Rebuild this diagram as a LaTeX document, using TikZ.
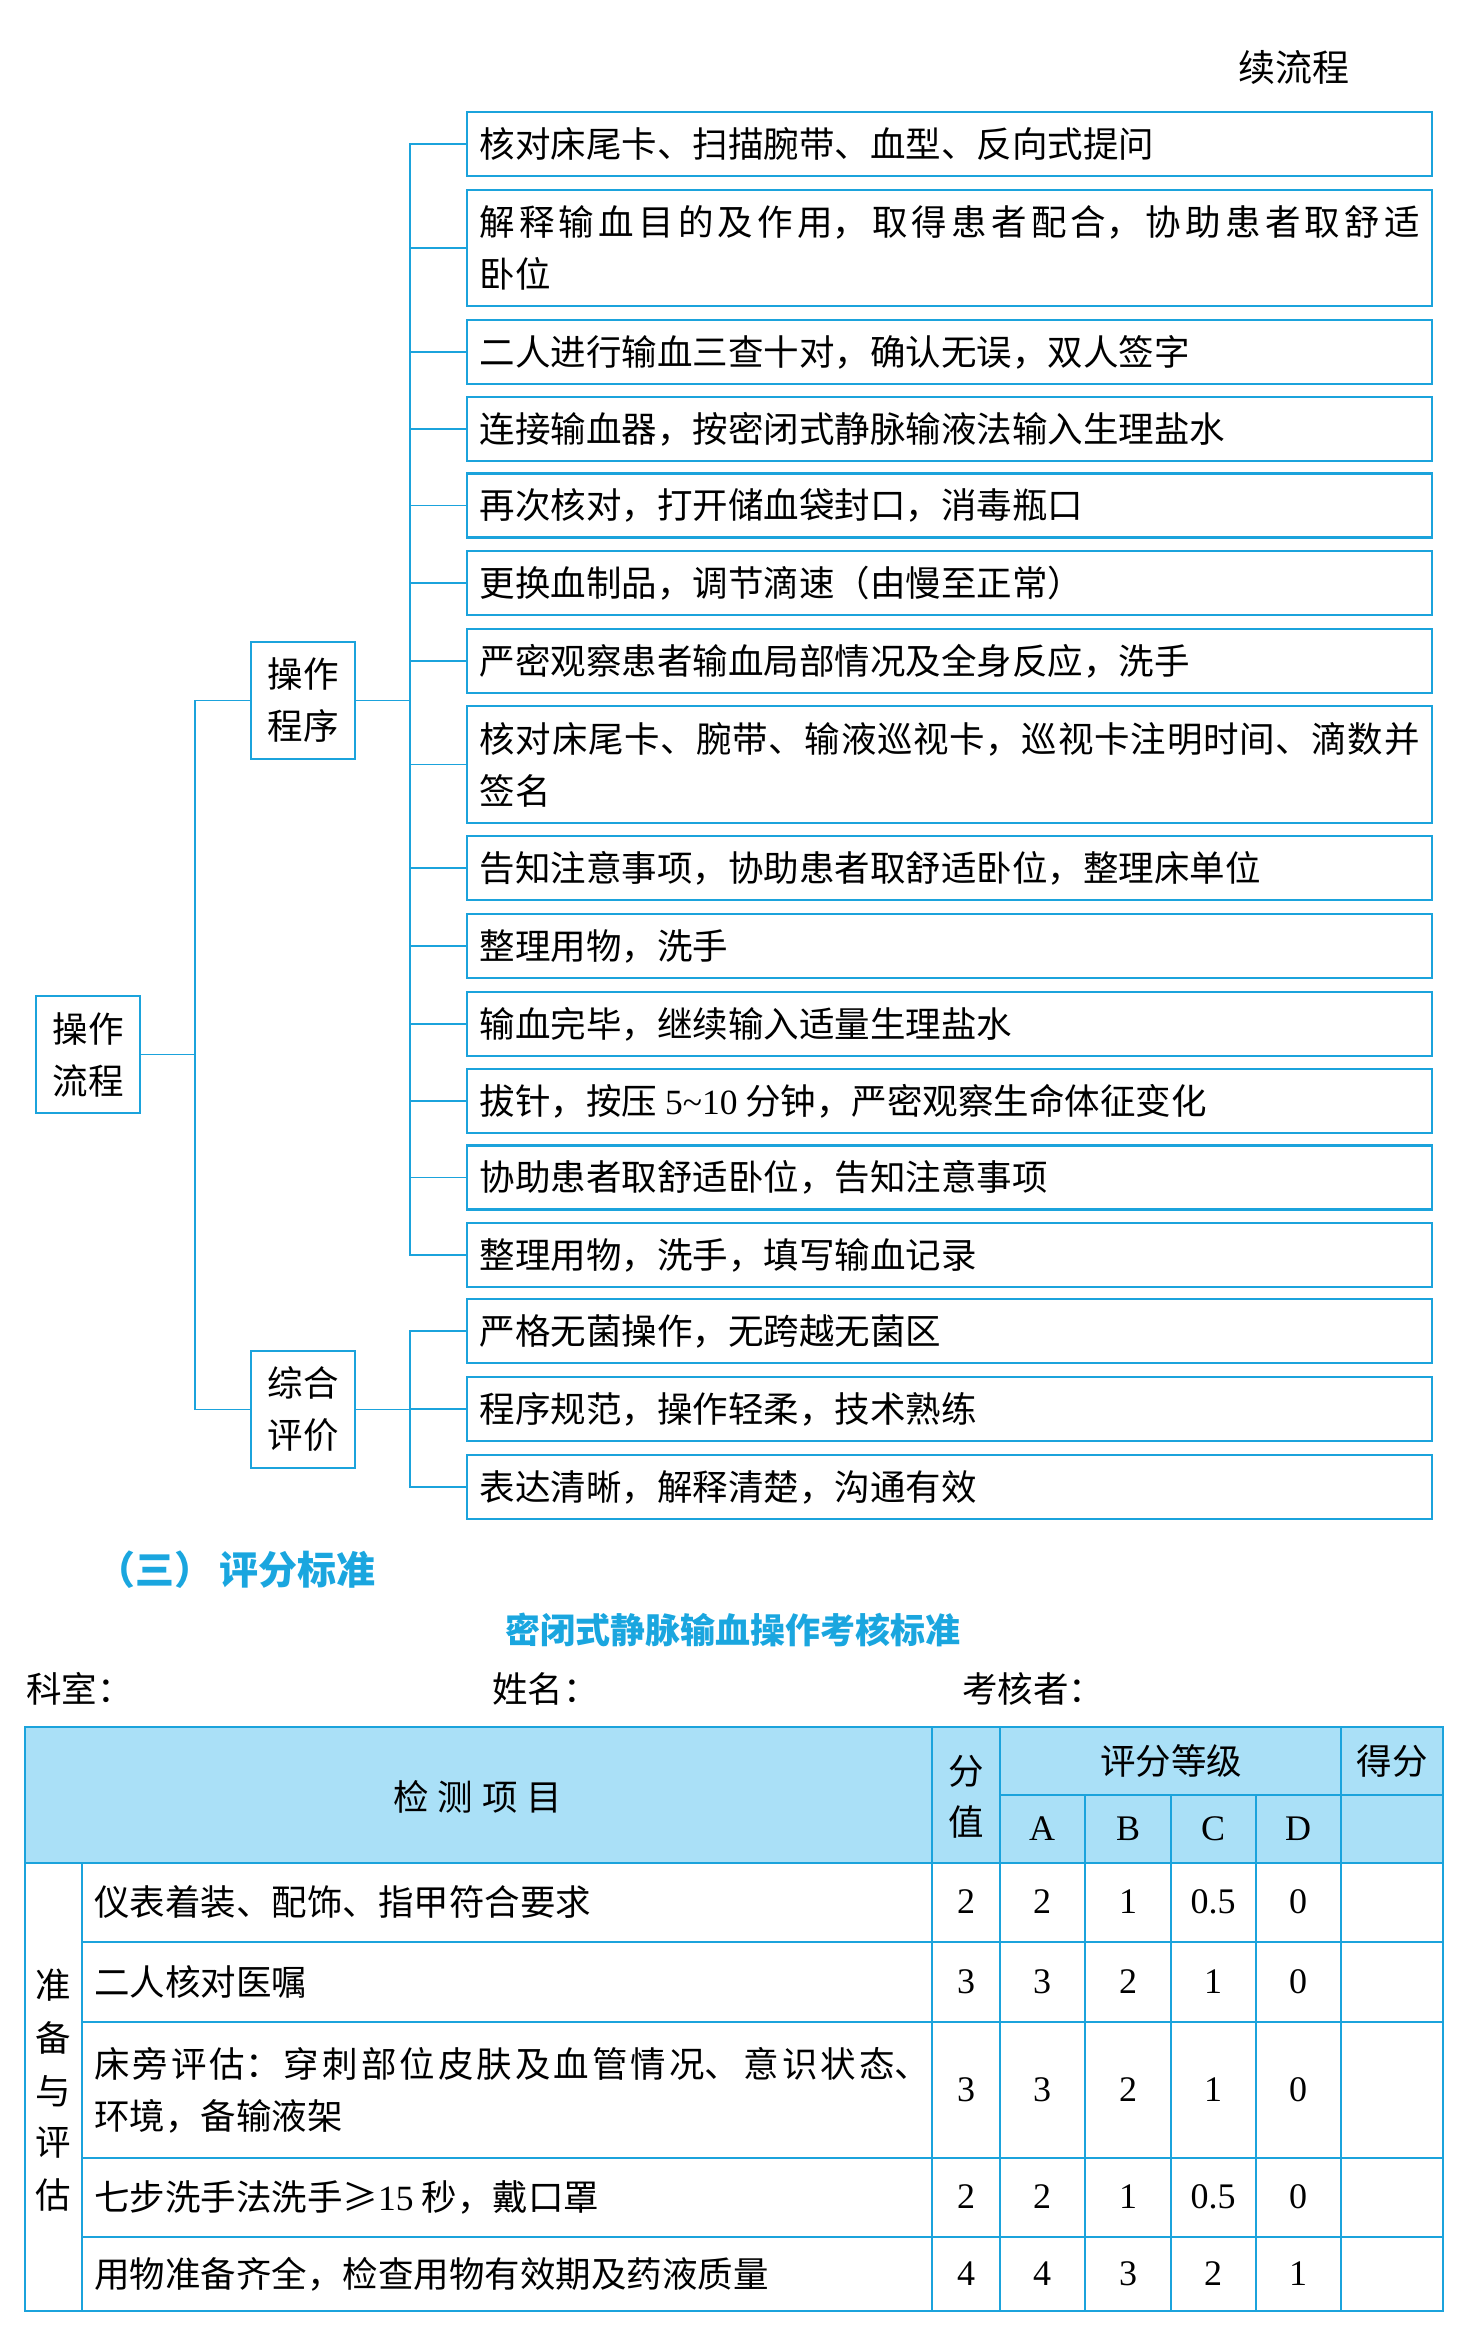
\documentclass[tikz,border=0pt]{standalone}
\usepackage{fontspec}
\setmainfont{Liberation Serif}
\newfontfamily\cjk{Noto Sans CJK SC}
\newfontfamily\lat{Liberation Serif}
\XeTeXlinebreaklocale "zh"
\XeTeXlinebreakskip=0pt plus 6pt
\definecolor{lc}{HTML}{1BA3DC}
\definecolor{hdr}{HTML}{AAE0F7}
\definecolor{tc}{HTML}{1AA6DF}
\tikzset{
  stepbox/.style={draw=lc, line width=2.2pt, text width=940pt, inner xsep=12.5pt, inner ysep=0pt,
    align=justify, anchor=west, font=\cjk\fontsize{35.5}{52}\selectfont},
  catbox/.style={draw=lc, line width=2.2pt, minimum width=104pt, minimum height=117pt,
    inner sep=0pt, align=center, font=\cjk\fontsize{35.5}{52}\selectfont},
  conn/.style={draw=lc, line width=1.5pt, line cap=rect},
  txt/.style={inner sep=0pt, font=\cjk\fontsize{35.5}{52}\selectfont},
  num/.style={inner sep=0pt, font=\lat\fontsize{36}{36}\selectfont},
  tthin/.style={draw=lc, line width=1.3pt},
  tthick/.style={draw=lc, line width=2.6pt},
}
\begin{document}
\begin{tikzpicture}[x=1pt,y=-1pt]
\useasboundingbox (0,0) rectangle (1477,2341);
\node[txt, anchor=west, font=\cjk\fontsize{37}{37}\selectfont] (cont) at (1238,67) {续流程};

% step boxes
\node[stepbox, minimum height=64pt] (b1) at (466,144) {核对床尾卡、扫描腕带、血型、反向式提问};
\node[stepbox, minimum height=116pt] (b2) at (466,248) {解释输血目的及作用，取得患者配合，协助患者取舒适\linebreak 卧位};
\node[stepbox, minimum height=64pt] (b3) at (466,352) {二人进行输血三查十对，确认无误，双人签字};
\node[stepbox, minimum height=64pt] (b4) at (466,429) {连接输血器，按密闭式静脉输液法输入生理盐水};
\node[stepbox, minimum height=64pt] (b5) at (466,505.5) {再次核对，打开储血袋封口，消毒瓶口};
\node[stepbox, minimum height=64pt] (b6) at (466,583) {更换血制品，调节滴速（由慢至正常）};
\node[stepbox, minimum height=64pt] (b7) at (466,661) {严密观察患者输血局部情况及全身反应，洗手};
\node[stepbox, minimum height=117pt] (b8) at (466,764.5) {核对床尾卡、腕带、输液巡视卡，巡视卡注明时间、滴数并\linebreak 签名};
\node[stepbox, minimum height=64pt] (b9) at (466,868) {告知注意事项，协助患者取舒适卧位，整理床单位};
\node[stepbox, minimum height=64pt] (b10) at (466,946) {整理用物，洗手};
\node[stepbox, minimum height=64pt] (b11) at (466,1024) {输血完毕，继续输入适量生理盐水};
\node[stepbox, minimum height=64pt] (b12) at (466,1101) {拔针，按压 {\lat 5\textasciitilde10} 分钟，严密观察生命体征变化};
\node[stepbox, minimum height=64pt] (b13) at (466,1177.5) {协助患者取舒适卧位，告知注意事项};
\node[stepbox, minimum height=64pt] (b14) at (466,1255) {整理用物，洗手，填写输血记录};
\node[stepbox, minimum height=64pt] (b15) at (466,1331) {严格无菌操作，无跨越无菌区};
\node[stepbox, minimum height=64pt] (b16) at (466,1409) {程序规范，操作轻柔，技术熟练};
\node[stepbox, minimum height=64pt] (b17) at (466,1487) {表达清晰，解释清楚，沟通有效};

% category boxes
\node[catbox] (op) at (303,700.5) {操作\\程序};
\node[catbox] (ev) at (303,1409.5) {综合\\评价};
\node[catbox] (flow) at (88,1054.5) {操作\\流程};

% connectors
\coordinate (j1) at (410,700.5);
\draw[conn] (op.east) -- (j1);
\draw[conn] (j1 |- b1.west) -- (j1 |- b14.west);
\foreach \i in {1,...,14} \draw[conn] (j1 |- b\i.west) -- (b\i.west);
\coordinate (j2) at (410,1409.5);
\draw[conn] (ev.east) -- (j2);
\draw[conn] (j2 |- b15.west) -- (j2 |- b17.west);
\foreach \i in {15,16,17} \draw[conn] (j2 |- b\i.west) -- (b\i.west);
\coordinate (j0) at (195,1054.5);
\draw[conn] (flow.east) -- (j0);
\draw[conn] (j0 |- op.west) -- (j0 |- ev.west);
\draw[conn] (j0 |- op.west) -- (op.west);
\draw[conn] (j0 |- ev.west) -- (ev.west);

% headings
\node[txt, anchor=west, text=tc, font=\cjk\bfseries\fontsize{39}{39}\selectfont] (sec) at (96,1570) {（三）\kern6pt 评分标准};
\node[txt, text=tc, font=\cjk\bfseries\fontsize{35}{35}\selectfont] (ttl) at (733,1630) {密闭式静脉输血操作考核标准};
\node[txt, anchor=west] (dept) at (26,1689) {科室：};
\node[txt, anchor=west] (name) at (492,1689) {姓名：};
\node[txt, anchor=west] (exam) at (962,1689) {考核者：};

% table
\fill[hdr] (25,1727) rectangle (1443,1863);
\draw[tthin] (1000,1795) -- (1443,1795);
\foreach \y in {1942,2022,2158,2237} \draw[tthin] (82,\y) -- (1443,\y);
\draw[tthin] (82,1863) -- (82,2311);
\foreach \x in {932,1000,1341} \draw[tthin] (\x,1727) -- (\x,2311);
\foreach \x in {1085,1171,1256} \draw[tthin] (\x,1795) -- (\x,2311);
\draw[tthick] (25,1863) -- (1443,1863);
\draw[tthick] (25,1727) rectangle (1443,2311);

% header text
\node[txt] (hitem) at (478,1797) {检\hspace{9pt}测\hspace{9pt}项\hspace{9pt}目};
\node[txt] (hval1) at (966,1771) {分};
\node[txt] (hval2) at (966,1822) {值};
\node[txt] (hgrade) at (1171,1761) {评分等级};
\node[txt] (hscore) at (1392,1761) {得分};
\node[num] (hA) at (1042,1829) {A};
\node[num] (hB) at (1128,1829) {B};
\node[num] (hC) at (1213,1829) {C};
\node[num] (hD) at (1298,1829) {D};

% left column
\node[txt] (c1) at (53.5,1985) {准};
\node[txt] (c2) at (53.5,2038) {备};
\node[txt] (c3) at (53.5,2091) {与};
\node[txt] (c4) at (53.5,2143) {评};
\node[txt] (c5) at (53.5,2195) {估};

% rows
\node[txt, anchor=west] (r1) at (94,1902) {仪表着装、配饰、指甲符合要求};
\node[txt, anchor=west] (r2) at (94,1982) {二人核对医嘱};
\node[txt, anchor=west, text width=836pt, align=justify] (r3) at (94,2090) {床旁评估：穿刺部位皮肤及血管情况、意识状态、\linebreak 环境，备输液架};
\node[txt, anchor=west] (r4) at (94,2197) {七步洗手法洗手≥{\lat 15} 秒，戴口罩};
\node[txt, anchor=west] (r5) at (94,2274) {用物准备齐全，检查用物有效期及药液质量};

\foreach \y/\a/\b/\c/\d/\e [count=\k] in {1902/2/2/1/0.5/0, 1982/3/3/2/1/0, 2090/3/3/2/1/0, 2197/2/2/1/0.5/0, 2274/4/4/3/2/1} {
  \node[num] (v\k) at (966,\y) {\a};
  \node[num] (a\k) at (1042,\y) {\b};
  \node[num] (b\k) at (1128,\y) {\c};
  \node[num] (cc\k) at (1213,\y) {\d};
  \node[num] (d\k) at (1298,\y) {\e};
}
\end{tikzpicture}
\end{document}
